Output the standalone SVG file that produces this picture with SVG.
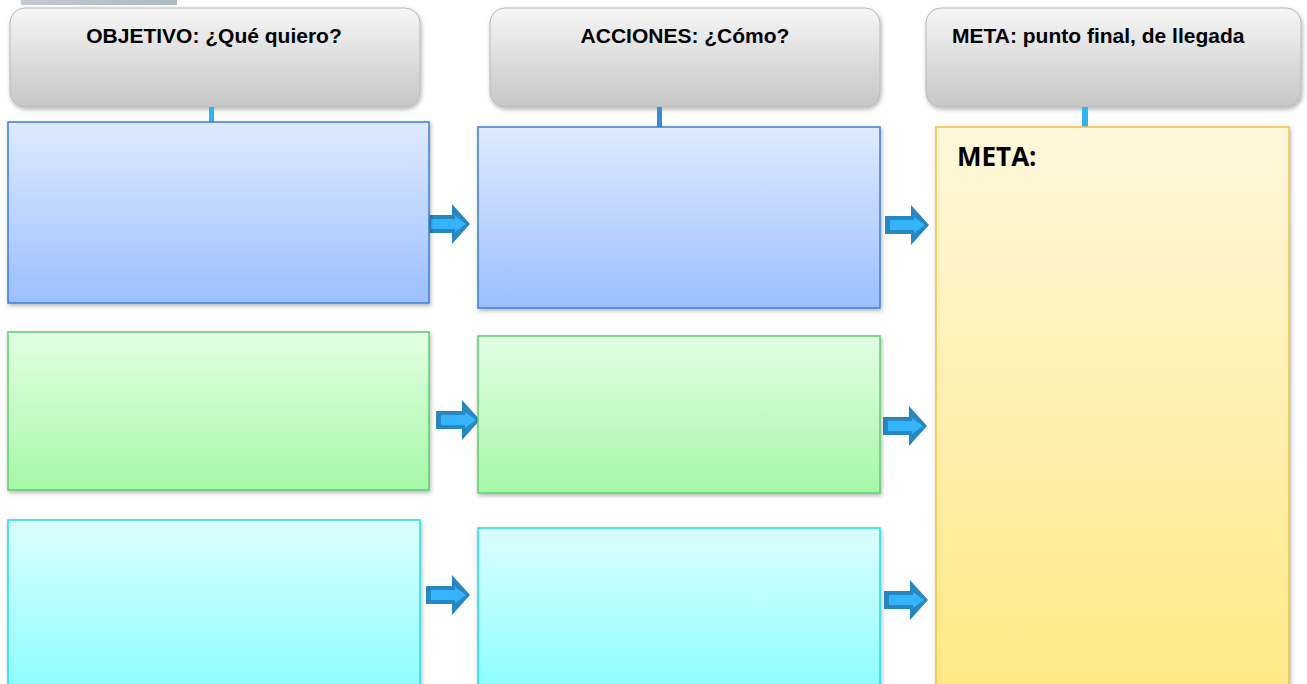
<svg xmlns="http://www.w3.org/2000/svg" width="1307" height="684" viewBox="0 0 1307 684">
<defs>
<linearGradient id="gHead" x1="0" y1="0" x2="0" y2="1">
<stop offset="0" stop-color="#f6f6f6"/><stop offset="0.5" stop-color="#dedede"/><stop offset="1" stop-color="#c6c6c6"/>
</linearGradient>
<linearGradient id="gBlue" x1="0" y1="0" x2="0" y2="1">
<stop offset="0" stop-color="#dfeaff"/><stop offset="1" stop-color="#9bbfff"/>
</linearGradient>
<linearGradient id="gGreen" x1="0" y1="0" x2="0" y2="1">
<stop offset="0" stop-color="#e2ffe2"/><stop offset="1" stop-color="#a6f7a8"/>
</linearGradient>
<linearGradient id="gCyan" x1="0" y1="0" x2="0" y2="1">
<stop offset="0" stop-color="#dcffff"/><stop offset="1" stop-color="#8cfdff"/>
</linearGradient>
<linearGradient id="gMeta" x1="0" y1="0" x2="0" y2="1">
<stop offset="0" stop-color="#fff7db"/><stop offset="1" stop-color="#ffe985"/>
</linearGradient>
<linearGradient id="gTop" x1="0" y1="0" x2="1" y2="0">
<stop offset="0" stop-color="#c2cbcf"/><stop offset="1" stop-color="#aebbc0"/>
</linearGradient>
<filter id="sh" x="-5%" y="-5%" width="110%" height="115%">
<feDropShadow dx="1" dy="2" stdDeviation="2" flood-color="#000" flood-opacity="0.3"/>
</filter>
<g id="arr">
<path d="M-44,-9 L-18,-9 L-18,-20 L0,0 L-18,20 L-18,9 L-44,9 Z" fill="#2688c2"/>
<path d="M-39,-5 L-15,-5 L-15,-8 L-4,0 L-15,8 L-15,5 L-39,5 Z" fill="#36b4fb"/>
</g>
</defs>
<style>
.head{fill:url(#gHead);stroke:#b8b8b8;stroke-width:1;filter:url(#sh)}
.ht{font-family:"Liberation Sans",Arial,sans-serif;font-weight:bold;font-size:21px;fill:#000}
.blue{fill:url(#gBlue);stroke:#3d7fd6;stroke-width:1.5;filter:url(#sh)}
.green{fill:url(#gGreen);stroke:#5fcc70;stroke-width:1.5;filter:url(#sh)}
.cyan{fill:url(#gCyan);stroke:#1ee0e0;stroke-width:1.5;filter:url(#sh)}
.meta{fill:url(#gMeta);stroke:#f5c040;stroke-width:1.5;filter:url(#sh)}
.stub{fill:#33b3f0}
</style>
<rect x="21" y="0" width="156" height="5" fill="url(#gTop)"/>
<g id="hdr-objetivo">
<rect class="head" x="10" y="8" width="410" height="99" rx="15"/>
<text class="ht" x="214" y="43" text-anchor="middle">OBJETIVO: ¿Qué quiero?</text>
</g>
<g id="hdr-acciones">
<rect class="head" x="490" y="8" width="390" height="99" rx="15"/>
<text class="ht" x="685" y="43" text-anchor="middle">ACCIONES: ¿Cómo?</text>
</g>
<g id="hdr-meta">
<rect class="head" x="926" y="8" width="375" height="99" rx="15"/>
<text class="ht" x="952" y="43">META: punto final, de llegada</text>
</g>
<g id="connectors">
<rect class="stub" x="209" y="107" width="5" height="17"/>
<rect x="657" y="107" width="5" height="21" fill="#3d8ad8"/>
<rect class="stub" x="1082" y="107" width="6" height="20"/>
<use href="#arr" transform="translate(470,224)"/>
<use href="#arr" transform="translate(480,420)"/>
<use href="#arr" transform="translate(470,595)"/>
<use href="#arr" transform="translate(929,225)"/>
<use href="#arr" transform="translate(927,426)"/>
<use href="#arr" transform="translate(928,600)"/>
</g>
<g id="obj-1"><rect class="blue" x="8" y="122" width="421" height="181"/></g>
<g id="acc-1"><rect class="blue" x="478" y="127" width="402" height="181"/></g>
<g id="obj-2"><rect class="green" x="8" y="332" width="421" height="158"/></g>
<g id="acc-2"><rect class="green" x="478" y="336" width="402" height="157"/></g>
<g id="obj-3"><rect class="cyan" x="8" y="520" width="412" height="170"/></g>
<g id="acc-3"><rect class="cyan" x="478" y="528" width="402" height="162"/></g>
<g id="meta">
<rect class="meta" x="936" y="127" width="353" height="563"/>
<text x="957" y="166" font-family="'Open Sans','Liberation Sans',sans-serif" font-weight="bold" font-size="26" fill="#000">META:</text>
</g>
</svg>
